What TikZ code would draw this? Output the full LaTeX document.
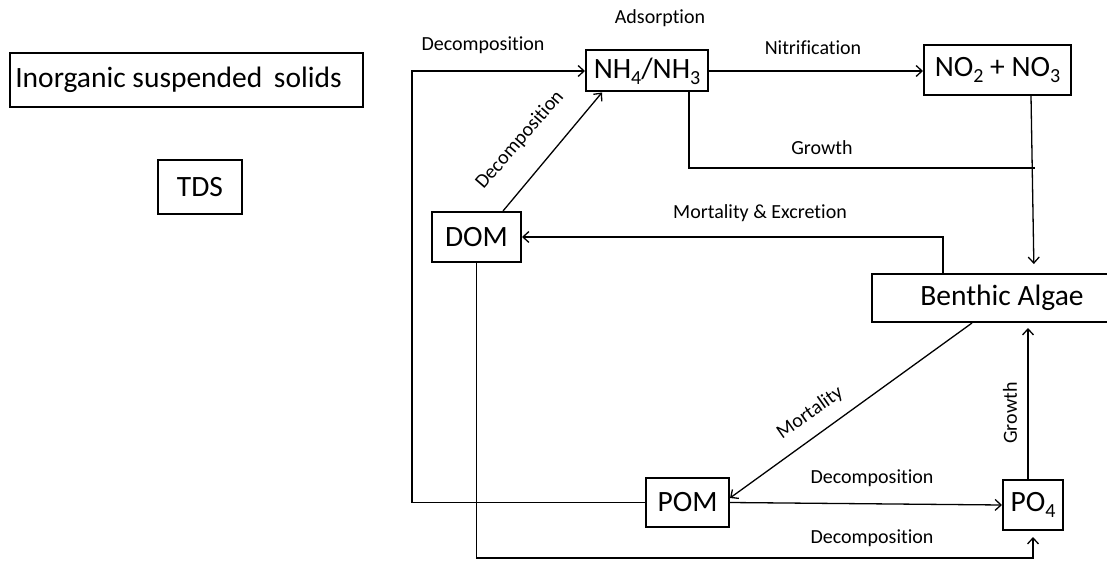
\documentclass[tikz,border=0pt]{standalone}
\usepackage{fontspec}
\setmainfont{Carlito}[Ligatures=NoCommon]
\usetikzlibrary{arrows.meta}
% chemical-style subscript, set lower and larger than \textsubscript
\newcommand\chemsub[1]{\raisebox{-6pt}{\fontsize{20}{20}\selectfont #1}}
\begin{document}
\begin{tikzpicture}[x=1pt,y=-1pt,
  box/.style={draw,line width=2pt,inner sep=0pt,font=\fontsize{29.5}{32}\selectfont},
  lbl/.style={font=\fontsize{20}{22}\selectfont,inner sep=0pt},
  flow/.style={line width=1.3pt,-{Straight Barb[length=6pt,width=11pt,line width=1.3pt]}},
  link/.style={line width=1.3pt}]
\useasboundingbox (0,0) rectangle (1107,561);
\clip (0,0) rectangle (1107,561);

% compartments
\node[box,minimum width=353pt,minimum height=54pt] (inorg) at (186.5,80) {Inorganic suspended\, solids\hspace*{16pt}};
\node[box,minimum width=84pt,minimum height=54pt] (tds) at (200,187) {TDS};
\node[box,minimum width=122pt,minimum height=41pt] (nh) at (647,71) {\raisebox{1pt}{NH\chemsub{4}/NH\chemsub{3}}};
\node[box,minimum width=147pt,minimum height=50pt] (no) at (997.5,70) {NO\chemsub{2} + NO\chemsub{3}};
\node[box,minimum width=89pt,minimum height=50pt] (dom) at (476.5,237) {DOM};
\node[box,minimum width=240pt,minimum height=48pt] (ben) at (992,298) {\hspace*{20pt}Benthic Algae};
\node[box,minimum width=83pt,minimum height=49pt] (pom) at (687.5,502.5) {POM};
\node[box,minimum width=60pt,minimum height=50pt] (po) at (1033,505) {PO\chemsub{4}};

% helper coordinates for routed connectors
\coordinate (leftlane) at (412,0);
\coordinate (bottomlane) at (0,558);
\coordinate (growthend) at (1035,168);

% nitrogen pathways
\draw[flow] (nh.east) -- (nh.east -| no.west);
\draw[link] ([xshift=42pt]nh.south) |- (growthend);
\draw[flow,shorten >=9pt] ([xshift=33.5pt]no.south) -- ([xshift=42pt]ben.north);
\draw[flow] ([xshift=-49pt]ben.north) |- (dom.east);
\draw[flow] ([xshift=26.5pt]dom.north) -- ([xshift=-45pt]nh.south);
\draw[flow] (pom.west) -| (leftlane |- nh.west) -- (nh.west);

% organic matter and phosphorus pathways
\draw[flow] ([xshift=-20pt]ben.south) -- ([yshift=4.5pt]pom.east);
\draw[flow] (pom.east) -- (po.west);
\draw[flow,shorten >=5pt] ([xshift=-5pt]po.north) -- ([xshift=-5pt]po.north |- ben.south);
\draw[flow,shorten >=6pt] (dom.south) |- (po.south |- bottomlane) -- (po.south);

% process labels
\node[lbl] (l1) at (660,18) {Adsorption};
\node[lbl] (l2) at (483,45) {Decomposition};
\node[lbl] (l3) at (813,48) {Nitrification};
\node[lbl] (l4) at (822,148) {Growth};
\node[lbl] (l5) at (760,213) {Mortality \& Excretion};
\node[lbl,rotate=49] (l6) at (520,140) {Decomposition};
\node[lbl,rotate=35] (l7) at (810,413) {Mortality};
\node[lbl,rotate=90] (l8) at (1010,413) {Growth};
\node[lbl] (l9) at (872,478) {Decomposition};
\node[lbl] (l10) at (872,538) {Decomposition};
\end{tikzpicture}
\end{document}
